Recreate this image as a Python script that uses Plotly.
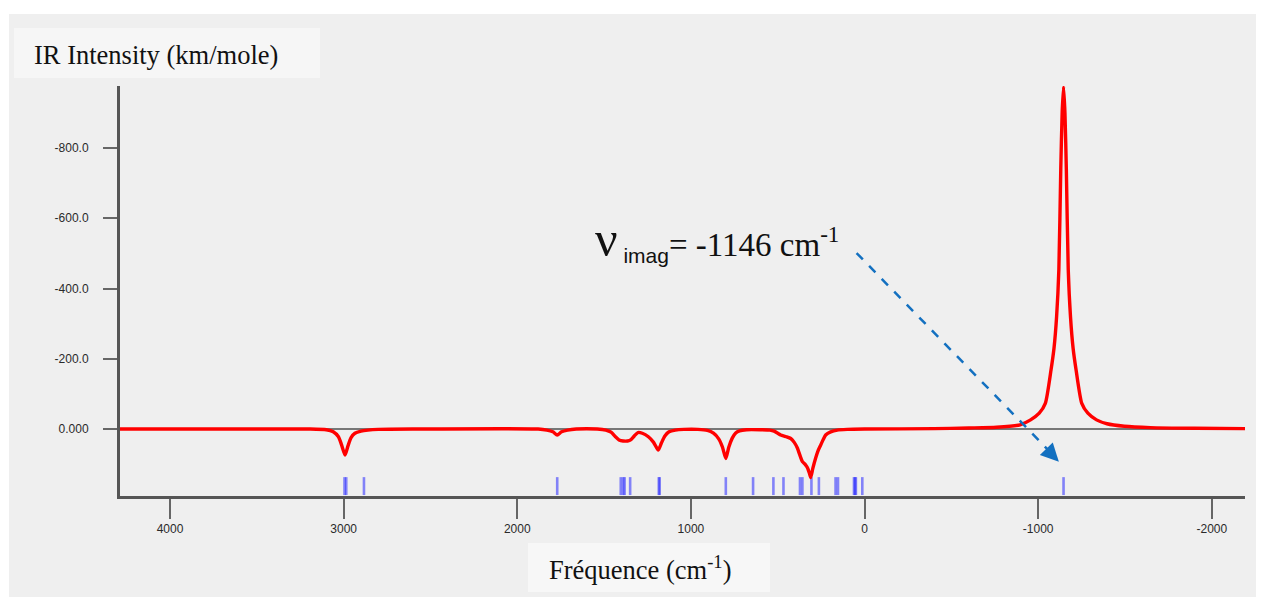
import plotly.graph_objects as go

# ---------------- data ----------------
freq = [4288, 3200, 3100, 3060, 3030, 3012, 2992, 2975, 2958, 2935, 2900, 2860, 2800, 2600,
        1880, 1830, 1795, 1770, 1745, 1710, 1660,
        1540, 1490, 1460, 1435, 1414, 1390, 1365, 1345, 1325, 1305, 1280, 1245, 1215, 1188,
        1170, 1150, 1126, 1090, 1040,
        960, 905, 870, 840, 818, 799, 782, 762, 742, 720, 680,
        600, 545, 521, 500, 483, 450, 425, 405, 387, 370, 358, 340, 329, 318, 310, 298, 282,
        268, 253, 238, 224, 195, 157, 100, 0,
        -400, -600, -760, -896, -956, -1006, -1041, -1074, -1091, -1106, -1119, -1130, -1138,
        -1146, -1154, -1162, -1173, -1186, -1201, -1218, -1251, -1286, -1336, -1396, -1496,
        -1646, -1900, -2191]
intensity = [0, 0, 2, 8, 22, 45, 74, 48, 25, 12, 6, 3, 1, 0,
             0, 3, 8, 17, 8, 3, 0,
             0, 3, 9, 22, 31, 34, 34, 30, 19, 10, 12, 22, 38, 60,
             40, 20, 8, 3, 1,
             1, 4, 12, 28, 52, 84, 52, 26, 11, 5, 2,
             2, 3, 6, 12, 17, 22, 27, 38, 54, 78, 93, 102, 110, 125, 138, 112, 83,
             62, 46, 30, 17, 8, 3, 1, 0,
             -1, -3, -5, -12, -26, -45, -73, -169, -230, -320, -454, -740, -900,
             -975, -900, -740, -454, -320, -230, -169, -73, -45, -26, -15, -8,
             -4, -2, -1]

stick_freqs = [2995, 2985, 2883, 1770, 1404, 1390, 1382, 1350, 1185, 1180, 799, 642, 525, 467,
               372, 358, 306, 263, 167, 153, 61, 55, 50, 13, -1146]

xtick_vals = [4000, 3000, 2000, 1000, 0, -1000, -2000]
xtick_text = ["4000", "3000", "2000", "1000", "0", "-1000", "-2000"]
ytick_vals = [-800, -600, -400, -200, 0]
ytick_text = ["-800.0", "-600.0", "-400.0", "-200.0", "0.000"]

imag_freq = -1146

# ---------------- layout constants ----------------
W, H = 1261, 599
L, R, T, B = 120, 16, 86, 103
X_RANGE = [4288, -2191]
Y_RANGE = [190.7, -976.5]
STICK_Y0, STICK_Y1 = 137, 188
BG = "#efefef"


def pxx(px):
    return (px - L) / (W - L - R)


def pxy(py):
    return (H - B - py) / (H - T - B)


sx, sy = [], []
for f in stick_freqs:
    sx += [f, f, None]
    sy += [STICK_Y0, STICK_Y1, None]

fig = go.Figure()
fig.add_trace(go.Scatter(x=sx, y=sy, mode="lines",
                         line=dict(color="rgba(40,40,255,0.55)", width=2.6),
                         hoverinfo="skip", showlegend=False))
fig.add_trace(go.Scatter(x=freq, y=intensity, mode="lines",
                         line=dict(color="#ff0000", width=3.4, shape="spline", smoothing=0.6),
                         showlegend=False))

axis_font = dict(family="Liberation Sans, Arial", size=12, color="#2a2a2a")
fig.update_xaxes(range=X_RANGE, showgrid=False, zeroline=False,
                 showline=True, linecolor="#555555", linewidth=3,
                 tickmode="array", tickvals=xtick_vals, ticktext=xtick_text,
                 ticks="outside", ticklen=20, tickwidth=1.5, tickcolor="#666666",
                 tickfont=axis_font)
fig.update_yaxes(range=Y_RANGE, showgrid=False,
                 zeroline=True, zerolinecolor="#777777", zerolinewidth=2,
                 showline=True, linecolor="#555555", linewidth=3,
                 tickmode="array", tickvals=ytick_vals, ticktext=ytick_text,
                 ticks="outside", ticklen=14, tickwidth=2, tickcolor="#666666",
                 ticklabelstandoff=12, tickfont=axis_font)

shapes = [
    dict(type="rect", xref="paper", yref="paper", x0=pxx(9), x1=pxx(1256), y0=pxy(597), y1=pxy(14),
         fillcolor=BG, line=dict(width=0), layer="below"),
    dict(type="rect", xref="paper", yref="paper", x0=pxx(14), x1=pxx(320), y0=pxy(78), y1=pxy(28),
         fillcolor="#f6f6f6", line=dict(width=0), layer="below"),
    dict(type="rect", xref="paper", yref="paper", x0=pxx(528), x1=pxx(770), y0=pxy(592), y1=pxy(543),
         fillcolor="#f7f7f7", line=dict(width=0), layer="below"),
    dict(type="line", xref="x", yref="y", x0=46, y0=-501, x1=-1072, y1=67,
         line=dict(color="#1370c0", width=2.5, dash="dash")),
]

serif = "Liberation Serif, Times New Roman, serif"
annotations = [
    dict(xref="paper", yref="paper", x=pxx(32), y=pxy(55), xanchor="left", yanchor="middle",
         text="IR Intensity (km/mole)", showarrow=False,
         font=dict(family=serif, size=26.5, color="#111111")),
    dict(xref="paper", yref="paper", x=pxx(547), y=pxy(568), xanchor="left", yanchor="middle",
         text="Fréquence (cm<sup>-1</sup>)", showarrow=False,
         font=dict(family=serif, size=26.5, color="#111111")),
    dict(xref="x", yref="y", x=1565, y=-540, xanchor="left", yanchor="middle",
         text=("<span style='font-size:50px'>ν</span>"
               "<sub><span style='font-family:Liberation Sans, Arial;font-size:21px'> imag</span></sub>"
               f"= {imag_freq} cm<sup>-1</sup>"),
         showarrow=False, font=dict(family=serif, size=33, color="#111111")),
    dict(xref="x", yref="y", x=-1119, y=93, ax=-11, ay=-11.3, text="",
         showarrow=True, arrowhead=2, arrowsize=1.8, arrowwidth=2, arrowcolor="#1370c0",
         standoff=0),
]

fig.update_layout(width=W, height=H, margin=dict(l=L, r=R, t=T, b=B, pad=0),
                  paper_bgcolor="#ffffff", plot_bgcolor=BG,
                  shapes=shapes, annotations=annotations, showlegend=False)

fig.write_html("out.html", config={"displayModeBar": False},
               post_script="document.body.style.margin='0';document.body.style.overflow='hidden';")
